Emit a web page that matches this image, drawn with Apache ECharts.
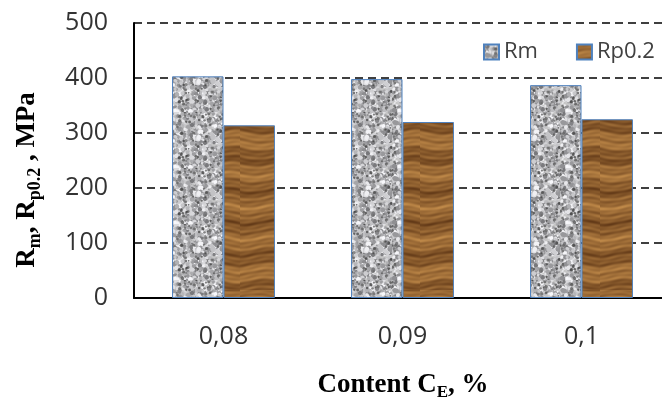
<!DOCTYPE html>
<html>
<head>
<meta charset="utf-8">
<script src="https://cdn.jsdelivr.net/npm/echarts@6/dist/echarts.min.js"></script>
<style>
html,body{margin:0;padding:0;background:#fff;}
#chart{width:662px;height:401px;}
</style>
</head>
<body>
<div id="chart"></div>
<script>
// ---- data ----
const categories = ['0,08', '0,09', '0,1'];
const seriesNames = ['Rm', 'Rp0.2'];
const rmValues = [403, 398, 387];
const rp02Values = [314, 320, 325];
const yTicks = [0, 100, 200, 300, 400, 500];

// ---- textures (styling only) ----
function prng(seed) {
  return function () {
    seed |= 0; seed = seed + 0x6D2B79F5 | 0;
    let t = Math.imul(seed ^ seed >>> 15, 1 | seed);
    t = t + Math.imul(t ^ t >>> 7, 61 | t) ^ t;
    return ((t ^ t >>> 14) >>> 0) / 4294967296;
  };
}
function granite() {
  const c = document.createElement('canvas');
  c.width = 56; c.height = 56;
  const g = c.getContext('2d');
  g.fillStyle = '#c6c6c6';
  g.fillRect(0, 0, 56, 56);
  const r = prng(7);
  for (let i = 0; i < 900; i++) {
    const v = Math.floor(120 + r() * 130);
    g.fillStyle = 'rgb(' + v + ',' + v + ',' + (v + 3) + ')';
    const x = r() * 56, y = r() * 56, s = 0.8 + r() * 2;
    g.beginPath();
    g.ellipse(x, y, s, s * (0.6 + r() * 0.6), r() * 3, 0, Math.PI * 2);
    g.fill();
  }
  for (let i = 0; i < 80; i++) {
    const v = Math.floor(60 + r() * 50);
    g.fillStyle = 'rgba(' + v + ',' + v + ',' + v + ',0.8)';
    g.beginPath();
    g.arc(r() * 56, r() * 56, 0.8 + r() * 0.9, 0, Math.PI * 2);
    g.fill();
  }
  return c;
}
function wood() {
  const w = 60, h = 290;
  const c = document.createElement('canvas');
  c.width = w; c.height = h;
  const g = c.getContext('2d');
  const img = g.createImageData(w, h);
  const dark = [92, 52, 20], light = [190, 136, 72];
  for (let y = 0; y < h; y++) {
    for (let x = 0; x < w; x++) {
      const yy = y + 2.5 * Math.sin(x * 0.09 + y * 0.02);
      let t = 0.55 + 0.2 * Math.sin(yy * 0.19) + 0.14 * Math.sin(yy * 0.61 + 1.3)
        + 0.1 * Math.sin(yy * 1.37 + 2.1) + 0.05 * Math.sin(x * 0.3 + yy * 0.8);
      t = Math.max(0, Math.min(1, t));
      const i = (y * w + x) * 4;
      img.data[i] = dark[0] + (light[0] - dark[0]) * t;
      img.data[i + 1] = dark[1] + (light[1] - dark[1]) * t;
      img.data[i + 2] = dark[2] + (light[2] - dark[2]) * t;
      img.data[i + 3] = 255;
    }
  }
  g.putImageData(img, 0, 0);
  return c;
}
const grayPattern = { image: granite(), repeat: 'repeat' };
const woodPattern = { image: wood(), repeat: 'repeat' };

const chart = echarts.init(document.getElementById('chart'), null, { renderer: 'canvas' });
const serif = '"Liberation Serif", "Times New Roman", serif';
const sans = '"Open Sans", "Liberation Sans", sans-serif';

chart.setOption({
  animation: false,
  backgroundColor: '#ffffff',
  grid: { left: 134, top: 23, height: 275, width: 537, containLabel: false, outerBoundsMode: 'none' },
  legend: {
    left: 483, top: 41, padding: 0,
    itemWidth: 15, itemHeight: 15, itemGap: 38,
    icon: 'rect',
    textStyle: { fontSize: 22, color: '#404040', fontFamily: sans },
    data: seriesNames
  },
  xAxis: {
    type: 'category',
    data: categories,
    axisLine: { show: true, lineStyle: { color: '#000', width: 2 } },
    axisTick: { show: false },
    axisLabel: { fontSize: 25, color: '#333', fontFamily: sans, margin: 26 }
  },
  yAxis: {
    type: 'value',
    min: yTicks[0], max: yTicks[yTicks.length - 1], interval: 100,
    axisLine: { show: true, lineStyle: { color: '#000', width: 2 } },
    axisTick: { show: false },
    axisLabel: { fontSize: 25, color: '#333', fontFamily: sans, margin: 26 },
    splitLine: { show: true, lineStyle: { color: '#000', width: 1.5, type: [8, 5] } }
  },
  series: [
    {
      name: seriesNames[0], type: 'bar', data: rmValues,
      barGap: '0%', barCategoryGap: '42.5%',
      itemStyle: { color: grayPattern, borderColor: '#4f81bd', borderWidth: 1 }
    },
    {
      name: seriesNames[1], type: 'bar', data: rp02Values,
      barGap: '0%', barCategoryGap: '42.5%',
      itemStyle: { color: woodPattern, borderColor: '#4f81bd', borderWidth: 1 }
    }
  ],
  graphic: [
    {
      type: 'text', x: 27, y: 180, rotation: Math.PI / 2,
      style: {
        text: '{b|R}{s|m}{b|, R}{s|p0.2}{b| , MPa}',
        align: 'center', verticalAlign: 'middle',
        rich: {
          b: { fontSize: 27, fontWeight: 'bold', fontFamily: serif, fill: '#000', lineHeight: 34, verticalAlign: 'middle' },
          s: { fontSize: 18, fontWeight: 'bold', fontFamily: serif, fill: '#000', lineHeight: 17, verticalAlign: 'bottom' }
        }
      }
    },
    {
      type: 'text', x: 403, y: 385,
      style: {
        text: '{b|Content C}{s|E}{b|, %}',
        align: 'center', verticalAlign: 'middle',
        rich: {
          b: { fontSize: 27, fontWeight: 'bold', fontFamily: serif, fill: '#000', lineHeight: 32, verticalAlign: 'middle' },
          s: { fontSize: 17, fontWeight: 'bold', fontFamily: serif, fill: '#000', lineHeight: 16, verticalAlign: 'bottom' }
        }
      }
    }
  ]
});
</script>
</body>
</html>
